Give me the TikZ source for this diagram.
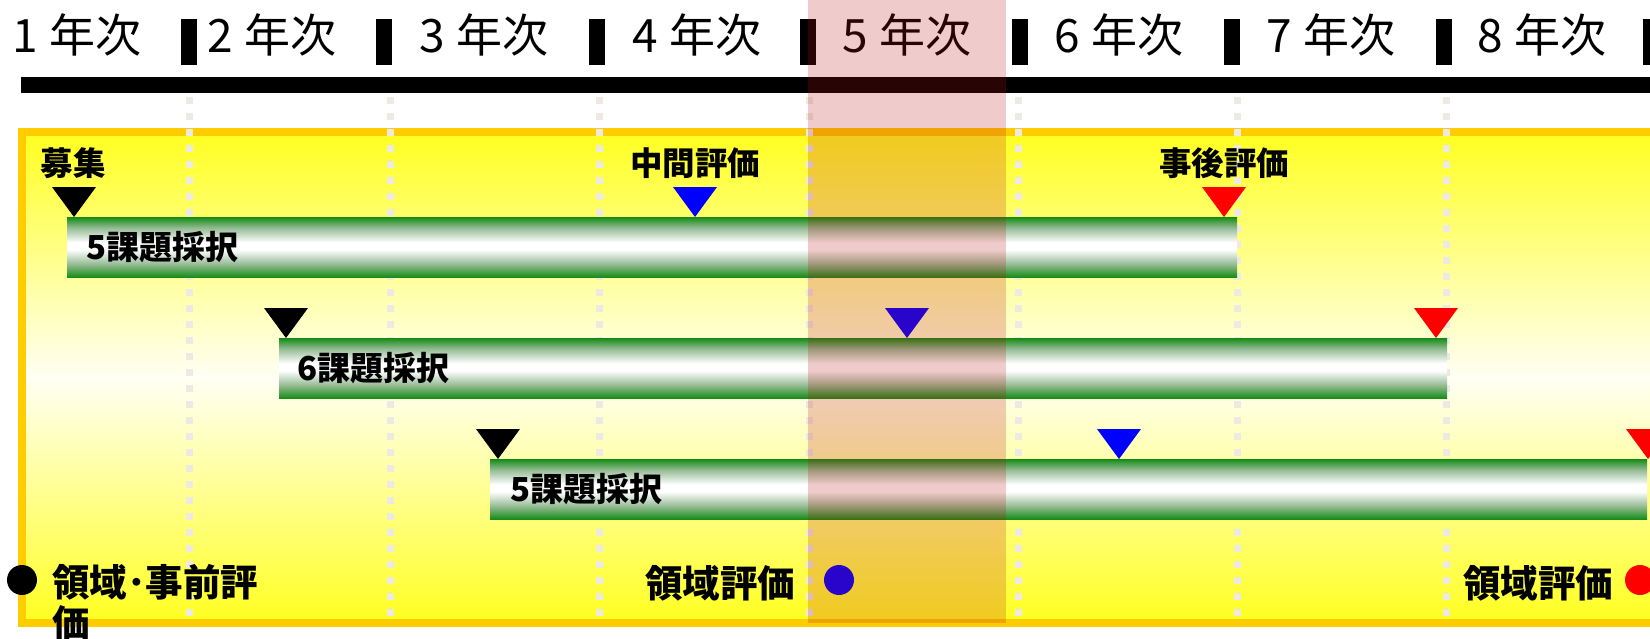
\documentclass[tikz,border=0pt]{standalone}
\usepackage{fontspec}
\newfontfamily\jp{Noto Sans CJK JP}
\usetikzlibrary{calc}
\definecolor{boxyellow}{RGB}{255,255,32}
\definecolor{boxpale}{RGB}{255,255,244}
\definecolor{boxborder}{RGB}{255,204,0}
\definecolor{bargreen}{RGB}{22,140,22}
\definecolor{barmid}{RGB}{150,188,150}
\definecolor{gridgrey}{RGB}{236,234,226}
\definecolor{bandred}{RGB}{190,20,20}
\definecolor{evalblue}{RGB}{0,0,255}
\definecolor{evalred}{RGB}{255,0,0}
\pgfdeclareverticalshading{barshade}{100bp}{color(0bp)=(bargreen); color(25bp)=(bargreen); color(36bp)=(barmid); color(48bp)=(white); color(54bp)=(white); color(66bp)=(barmid); color(75bp)=(bargreen); color(100bp)=(bargreen)}
\newcommand\downtri[3]{\fill[#1] (#2-22,#3-30) -- (#2+22,#3-30) -- (#2,#3) -- cycle;}
\newcommand\yr[1]{#1\kern11pt年次}
\begin{document}
\begin{tikzpicture}[x=1pt,y=-1pt,
  yearlbl/.style={font=\jp\fontsize{46}{50}\selectfont, inner sep=0, anchor=base},
  evlbl/.style={font=\jp\bfseries\fontsize{32.5}{36}\selectfont, inner sep=0, anchor=base},
  bartext/.style={font=\jp\bfseries\fontsize{33}{37}\selectfont, inner sep=0, anchor=base west},
  arealbl/.style={font=\jp\bfseries\fontsize{37.5}{41}\selectfont, inner sep=0},
  bar/.style={rectangle, inner sep=0, minimum height=60, shade, shading=barshade, anchor=north west},
  spot/.style={circle, inner sep=0, minimum size=30},
  gridline/.style={gridgrey, line width=7, dash pattern=on 7pt off 9pt}]
\useasboundingbox (0,0) rectangle (1650,638);
\clip (0,0) rectangle (1650,638);
\fill[white] (0,0) rectangle (1650,638);
% header
\node[yearlbl] (y1) at (77,52) {\yr{1}};
\node[yearlbl] (y2) at (272,52) {\yr{2}};
\node[yearlbl] (y3) at (484,52) {\yr{3}};
\node[yearlbl] (y4) at (697,52) {\yr{4}};
\node[yearlbl] (y5) at (907,52) {\yr{5}};
\node[yearlbl] (y6) at (1119,52) {\yr{6}};
\node[yearlbl] (y7) at (1331,52) {\yr{7}};
\node[yearlbl] (y8) at (1542,52) {\yr{8}};
\foreach \x in {181,376,589,800,1012,1224,1436,1643}
  \fill[black] (\x,19) rectangle ++(16,46);
\fill[black] (21,77) rectangle (1650,93);
% yellow box
\draw[line width=8, draw=boxborder, top color=boxyellow, bottom color=boxyellow, middle color=boxpale]
  (22,132) rectangle (1700,623);
% grid lines
\foreach \x in {189,390,599,809,1018,1237,1446}
  \draw[gridline] (\x,97) -- (\x,622);
% bars
\node[bar, minimum width=1170] (bar1) at (67,217) {};
\node[bar, minimum width=1168] (bar2) at (279,338) {};
\node[bar, minimum width=1157] (bar3) at (490,459) {};
\node[bartext] (t1) at (86,259) {5課題採択};
\node[bartext] (t2) at (297,380) {6課題採択};
\node[bartext] (t3) at (510,501) {5課題採択};
% triangles
\downtri{black}{74}{217}
\downtri{evalblue}{695}{217}
\downtri{evalred}{1224}{217}
\downtri{black}{286}{338}
\downtri{evalblue}{907}{338}
\downtri{evalred}{1436}{338}
\downtri{black}{498}{459}
\downtri{evalblue}{1119}{459}
\downtri{evalred}{1648}{459}
% labels
\node[evlbl] (boshu) at (73,175) {募集};
\node[evlbl] (chukan) at (695,175) {中間評価};
\node[evlbl] (jigo) at (1224,175) {事後評価};
% bottom
\node[spot, fill=black] (c1) at (22,580) {};
\node[spot, fill=evalblue] (c2) at (839,580) {};
\node[spot, fill=evalred] (c3) at (1640,580) {};
\node[arealbl, anchor=north west, align=left] (a1) at (52,564) {領域･事前評\\価};
\node[arealbl, anchor=base] (a2) at (720,597) {領域評価};
\node[arealbl, anchor=base] (a3) at (1538,597) {領域評価};
% highlight band
\fill[bandred, opacity=0.22] (808,0) rectangle (1006,623);
\end{tikzpicture}
\end{document}
